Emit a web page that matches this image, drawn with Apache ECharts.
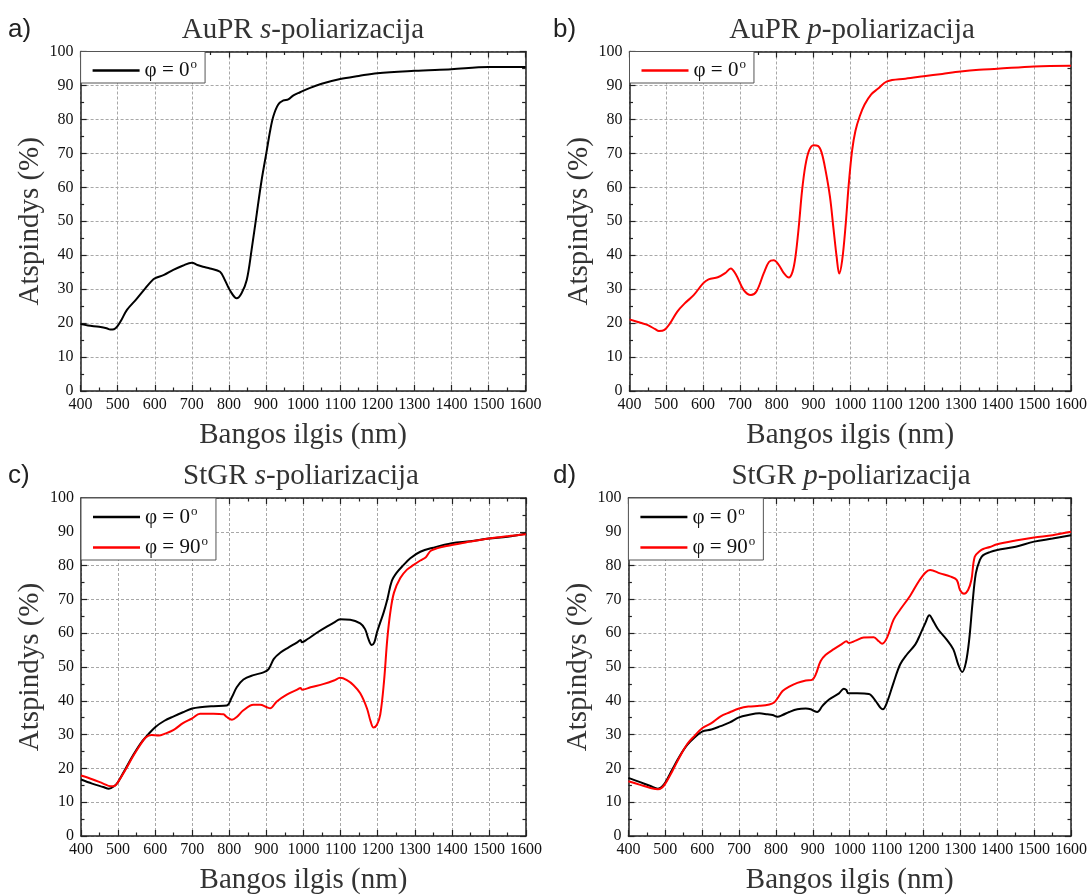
<!DOCTYPE html>
<html>
<head>
<meta charset="utf-8">
<script src="https://cdn.jsdelivr.net/npm/echarts@6/dist/echarts.min.js"></script>
<style>
html,body{margin:0;padding:0;background:#fff;}
#chart{width:1090px;height:896px;}
</style>
</head>
<body>
<div id="chart"></div>
<script>
// ---------- data ----------
const xTickMin = 400, xTickMax = 1600, xTickStep = 100;
const yTickMin = 0, yTickMax = 100, yTickStep = 10;

const panelLetters = ['a)', 'b)', 'c)', 'd)'];
const panelTitlesPre = ['AuPR ', 'AuPR ', 'StGR ', 'StGR '];
const panelTitlesPol = ['s', 'p', 's', 'p'];
const panelTitlesPost = '-poliarizacija';
const xName = 'Bangos ilgis (nm)';
const yName = 'Atspindys (%)';
const name0 = 'φ = 0°';
const name90 = 'φ = 90°';

// a) AuPR s-polarization, φ = 0°
const aS_nm = [400,420,450,470,480,490,500,510,525,550,575,590,600,625,650,675,700,715,730,749,776,789,803,821,834,848,861,875,888,902,911,920,933,947,960,974,992,1019,1050,1100,1150,1200,1300,1400,1500,1600];
const aS_R  = [19.7,19.3,18.9,18.5,18.1,18.2,19.2,20.9,23.9,27.0,30.3,32.2,33.2,34.2,35.7,36.9,37.8,37.1,36.6,36.1,35.1,32.7,29.6,27.3,28.8,32.7,41.5,52.2,62.0,70.8,76.6,81.0,84.4,85.6,85.9,87.1,88.0,89.3,90.5,91.9,92.8,93.6,94.3,94.8,95.4,95.4];

// b) AuPR p-polarization, φ = 0°
const bP_nm = [400,430,450,470,480,495,510,530,550,575,600,615,640,660,675,690,710,730,745,765,779,792,806,819,833,843,851,860,869,878,888,900,912,922,933,945,954,963,970,978,987,996,1005,1014,1026,1039,1057,1075,1100,1150,1200,1250,1300,1350,1400,1500,1600];
const bP_R  = [21.1,20.1,19.4,18.2,17.7,18.0,19.9,23.4,25.8,28.3,31.7,32.9,33.5,34.7,36.1,34.2,29.8,28.3,29.3,34.7,38.0,38.5,37.1,34.8,33.4,35.1,39.5,48.3,59.0,66.4,70.8,72.4,72.2,70.3,64.9,57.1,48.3,39.5,34.6,38.5,48.3,61.0,70.8,76.6,81.0,84.4,87.4,89.0,91.2,92.0,92.7,93.4,94.1,94.6,94.9,95.6,95.8];

// c) StGR s-polarization
const cS0_nm = [400,430,460,475,490,500,520,540,560,580,600,625,650,675,700,721,757,793,807,820,838,865,892,906,920,938,960,983,992,996,1010,1037,1064,1082,1099,1126,1153,1166,1175,1184,1191,1198,1207,1216,1226,1238,1252,1270,1288,1315,1350,1400,1450,1500,1550,1600];
const cS0_R  = [16.7,15.5,14.5,14.0,14.8,16.0,19.9,23.8,27.3,29.9,32.2,34.1,35.4,36.6,37.7,38.1,38.4,38.6,41.1,44.0,46.3,47.6,48.4,49.4,52.4,54.3,55.8,57.3,58.0,57.3,58.2,60.2,62.0,63.1,64.1,64.0,62.9,61.2,58.3,56.5,57.3,60.2,63.2,66.1,70.0,75.4,78.0,80.2,82.2,84.1,85.3,86.6,87.2,88.0,88.5,89.5];
const cS90_nm = [400,430,460,480,490,500,520,540,560,575,590,610,625,650,675,700,721,757,784,793,807,820,838,865,883,901,910,928,955,983,992,996,1019,1055,1082,1099,1117,1135,1153,1171,1181,1189,1198,1207,1217,1226,1234,1244,1261,1279,1297,1315,1330,1345,1400,1450,1500,1550,1600];
const cS90_R  = [17.9,16.8,15.5,14.7,14.8,16.0,19.6,23.5,27.0,29.2,29.9,29.7,30.2,31.4,33.4,34.8,36.2,36.2,36.0,35.2,34.4,35.2,37.2,38.8,38.8,38.1,37.8,39.8,41.8,43.3,43.8,43.3,44.0,45.0,46.0,46.8,46.1,44.6,42.2,37.8,33.9,32.1,32.9,35.9,45.6,58.3,66.1,72.0,76.3,78.8,80.2,81.5,82.5,84.5,86.1,87.1,88.0,88.7,89.3];

// d) StGR p-polarization
const dP0_nm = [400,430,460,480,490,500,520,540,560,580,600,625,650,675,700,725,755,777,791,804,818,836,858,881,894,903,912,926,944,971,984,991,996,1020,1052,1070,1083,1090,1101,1119,1137,1155,1178,1191,1205,1216,1227,1240,1263,1281,1294,1305,1315,1324,1333,1342,1353,1362,1380,1400,1450,1500,1550,1600];
const dP0_R  = [17.2,16.0,14.8,14.0,14.5,15.8,19.9,23.8,27.0,29.2,30.9,31.5,32.5,33.6,35.1,35.8,36.3,36.0,35.8,35.3,35.8,36.7,37.5,37.7,37.5,37.0,36.7,38.5,40.4,42.2,43.6,43.2,42.2,42.2,42.0,40.0,38.0,37.5,39.5,45.4,50.8,53.7,56.7,59.6,63.0,65.3,63.5,61.1,58.1,55.2,50.8,48.5,51.3,58.1,68.9,77.7,81.7,83.1,84.0,84.6,85.6,87.1,88.0,89.0];
const dP90_nm = [400,430,460,480,490,500,520,540,560,580,600,625,650,675,700,725,755,782,795,804,818,836,858,881,899,908,921,935,957,980,991,998,1016,1038,1065,1079,1088,1101,1119,1137,1164,1187,1205,1218,1245,1272,1290,1299,1310,1321,1330,1339,1353,1362,1380,1400,1450,1500,1550,1600];
const dP90_R  = [16.2,15.2,14.2,13.8,14.2,15.5,19.4,23.6,27.3,29.7,31.9,33.4,35.4,36.6,37.7,38.3,38.5,38.9,39.5,40.7,42.9,44.2,45.3,46.0,46.3,47.8,51.7,53.6,55.3,56.9,57.6,57.1,57.8,58.7,58.8,57.6,56.9,58.6,64.0,67.0,71.1,75.3,77.9,78.7,77.7,76.8,75.8,72.8,71.7,72.8,75.8,82.6,84.3,84.9,85.5,86.3,87.4,88.3,89.0,90.0];

// ---------- layout / style ----------
const grids = [
  {left: 80.6, top: 51.5, width: 445, height: 339.5},
  {left: 629.5, top: 51.5, width: 445, height: 339.5},
  {left: 81, top: 498, width: 445, height: 340},
  {left: 628.4, top: 498, width: 445, height: 340}
];
const SERIF = '"Liberation Serif", "Times New Roman", serif';
const SANS = '"Liberation Sans", Arial, sans-serif';
const BLACK = '#000000', RED = '#ff0000';

function zip(xs, ys) { return xs.map((x, i) => [x, ys[i]]); }

const xAxes = [], yAxes = [];
grids.forEach((g, i) => {
  const tickCommon = {show: true, inside: true, length: 6, lineStyle: {color: '#222', width: 1.2}};
  const minorCommon = {show: true, splitNumber: 2, length: 3.5, lineStyle: {color: '#222', width: 1.2}};
  const lineCommon = {show: true, onZero: false, lineStyle: {color: '#222', width: 1.5}};
  xAxes.push({
    type: 'value', gridIndex: i, position: 'bottom',
    min: xTickMin, max: xTickMax, interval: xTickStep,
    axisLine: lineCommon, axisTick: tickCommon, minorTick: minorCommon,
    axisLabel: {show: true, fontFamily: SERIF, fontSize: 16, color: '#111', margin: 6,
      showMinLabel: true, showMaxLabel: true, formatter: v => String(v)},
    splitLine: {show: true, lineStyle: {color: '#a8a8a8', width: 1, type: [3, 2]}},
    name: xName, nameLocation: 'middle', nameGap: 30,
    nameTextStyle: {fontFamily: SERIF, fontSize: 29, color: '#333'}
  });
  xAxes.push({
    type: 'value', gridIndex: i, position: 'top',
    min: xTickMin, max: xTickMax, interval: xTickStep,
    axisLine: lineCommon, axisTick: tickCommon, minorTick: minorCommon,
    axisLabel: {show: false}, splitLine: {show: false}
  });
  yAxes.push({
    type: 'value', gridIndex: i, position: 'left',
    min: yTickMin, max: yTickMax, interval: yTickStep,
    axisLine: lineCommon, axisTick: tickCommon, minorTick: minorCommon,
    axisLabel: {show: true, fontFamily: SERIF, fontSize: 16, color: '#111', margin: 7, formatter: v => String(v)},
    splitLine: {show: true, lineStyle: {color: '#a8a8a8', width: 1, type: [3, 2]}},
    name: yName, nameLocation: 'middle', nameGap: 36,
    nameTextStyle: {fontFamily: SERIF, fontSize: 29, color: '#333'}
  });
  yAxes.push({
    type: 'value', gridIndex: i, position: 'right',
    min: yTickMin, max: yTickMax, interval: yTickStep,
    axisLine: lineCommon, axisTick: tickCommon, minorTick: minorCommon,
    axisLabel: {show: false}, splitLine: {show: false}
  });
});

function lineSeries(name, panel, xs, ys, color) {
  return {
    type: 'line', name: name,
    xAxisIndex: panel * 2, yAxisIndex: panel * 2,
    data: zip(xs, ys),
    showSymbol: false, symbol: 'none',
    smooth: 0.35,
    lineStyle: {color: color, width: 2},
    itemStyle: {color: color},
    z: 3, silent: true, animation: false
  };
}

const series = [
  lineSeries(name0, 0, aS_nm, aS_R, BLACK),
  lineSeries(name0, 1, bP_nm, bP_R, RED),
  lineSeries(name0, 2, cS0_nm, cS0_R, BLACK),
  lineSeries(name90, 2, cS90_nm, cS90_R, RED),
  lineSeries(name0, 3, dP0_nm, dP0_R, BLACK),
  lineSeries(name90, 3, dP90_nm, dP90_R, RED)
];

const legendText = {
  fontFamily: SERIF, fontSize: 21, color: '#111', lineHeight: 20,
  rich: {s: {fontFamily: SERIF, fontSize: 13, color: '#111', verticalAlign: 'bottom', lineHeight: 14, padding: [0, 0, 9, 1]}}
};
function legendBox(panel, items) {
  const g = grids[panel];
  return {
    left: g.left, top: g.top, orient: 'vertical',
    padding: [7, 8, 2, 12], itemGap: 8,
    itemWidth: 47, itemHeight: 2.5, icon: 'rect',
    borderColor: '#555', borderWidth: 1, backgroundColor: '#fff',
    selectedMode: false,
    textStyle: legendText,
    formatter: n => n.replace('°', '{s|o}'),
    data: items.map(it => ({name: it[0], itemStyle: {color: it[1]}, lineStyle: {color: it[1]}}))
  };
}
const legends = [
  legendBox(0, [[name0, BLACK]]),
  legendBox(1, [[name0, RED]]),
  legendBox(2, [[name0, BLACK], [name90, RED]]),
  legendBox(3, [[name0, BLACK], [name90, RED]])
];

const titleCenters = [[303, 30], [852, 30], [301, 476], [851, 476]];
const letterPos = [[8, 30], [553, 30], [8, 476], [553, 476]];
const graphics = [];
titleCenters.forEach((c, i) => {
  graphics.push({
    type: 'text', x: c[0], y: c[1], silent: true,
    style: {
      text: '{n|' + panelTitlesPre[i] + '}{i|' + panelTitlesPol[i] + '}{n|' + panelTitlesPost + '}',
      align: 'center', verticalAlign: 'middle',
      rich: {
        n: {fontFamily: SERIF, fontSize: 29, fill: '#333', color: '#333'},
        i: {fontFamily: SERIF, fontSize: 29, fontStyle: 'italic', fill: '#333', color: '#333'}
      }
    }
  });
  graphics.push({
    type: 'text', x: letterPos[i][0], y: letterPos[i][1], silent: true,
    style: {text: panelLetters[i], fontFamily: SANS, fontSize: 26, fill: '#222', align: 'left', verticalAlign: 'middle'}
  });
});

const chart = echarts.init(document.getElementById('chart'), null, {renderer: 'canvas'});
chart.setOption({
  animation: false,
  backgroundColor: '#ffffff',
  grid: grids.map(g => Object.assign({containLabel: false}, g)),
  xAxis: xAxes,
  yAxis: yAxes,
  legend: legends,
  series: series,
  graphic: graphics
});
</script>
</body>
</html>
